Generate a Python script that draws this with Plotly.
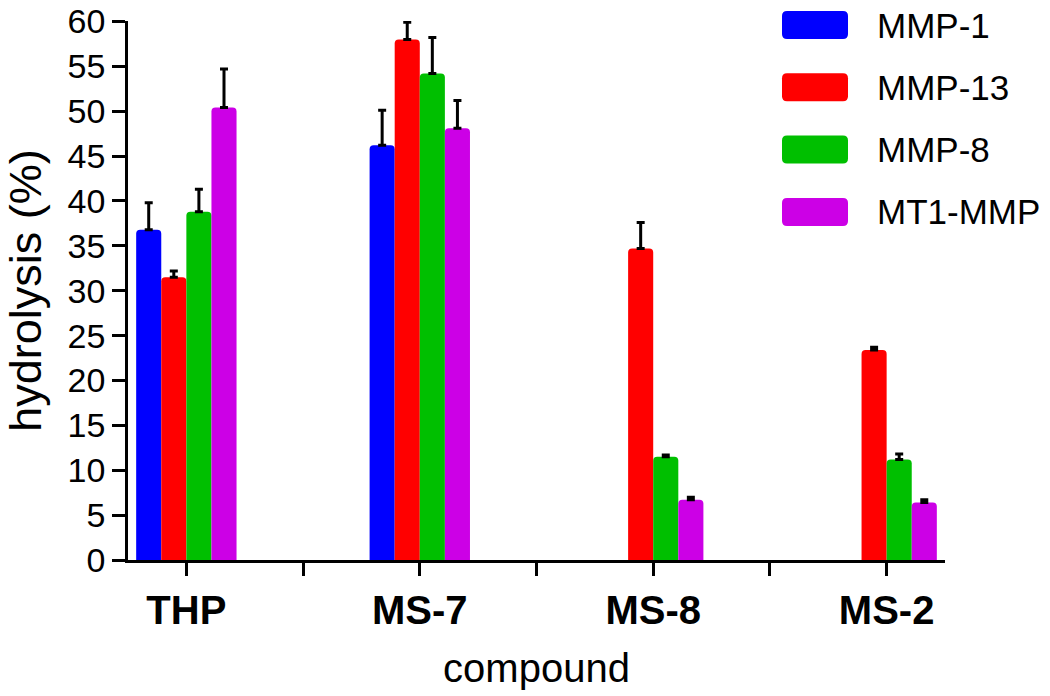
import plotly.graph_objects as go

compounds = ['THP', 'MS-7', 'MS-8', 'MS-2']
enzymes = ['MMP-1', 'MMP-13', 'MMP-8', 'MT1-MMP']

mmp1 = [36.8, 46.2, None, None]
mmp13 = [31.5, 58.0, 34.7, 23.4]
mmp8 = [38.8, 54.2, 11.5, 11.2]
mt1mmp = [50.4, 48.1, 6.7, 6.4]

mmp1_err = [3.0, 3.9, 0, 0]
mmp13_err = [0.7, 1.9, 2.9, 0.3]
mmp8_err = [2.5, 4.0, 0.2, 0.6]
mt1mmp_err = [4.3, 3.1, 0.3, 0.3]

y_ticks = list(range(0, 61, 5))

colors = ['#0000FF', '#FF0000', '#00BF00', '#CC00E6']
series = [mmp1, mmp13, mmp8, mt1mmp]
errors = [mmp1_err, mmp13_err, mmp8_err, mt1mmp_err]

W, H = 1050, 696
L, R, T, B = 128, 1050 - 945, 21, 696 - 560
FONT = 'Liberation Sans, Arial, sans-serif'
PW, PH = W - L - R, H - T - B


def px_x(px):
    # page pixel -> paper x
    return (px - L) / PW


def px_y(py):
    return (H - B - py) / PH


def rounded_rect(x0, y0, x1, y1, r):
    # x/y in page pixels, returns svg path in paper coords
    rx, ry = r / PW, r / PH
    a, b = px_x(x0), px_x(x1)
    top, bot = px_y(y0), px_y(y1)
    return (
        f'M {a + rx},{bot} L {b - rx},{bot} Q {b},{bot} {b},{bot + ry} '
        f'L {b},{top - ry} Q {b},{top} {b - rx},{top} '
        f'L {a + rx},{top} Q {a},{top} {a},{top - ry} '
        f'L {a},{bot + ry} Q {a},{bot} {a + rx},{bot} Z'
    )


x_pos = list(range(len(compounds)))

fig = go.Figure()
for name, vals, err, col in zip(enzymes, series, errors, colors):
    fig.add_trace(
        go.Bar(
            x=x_pos,
            y=vals,
            name=name,
            marker=dict(color=col, line=dict(width=0)),
            error_y=dict(
                type='data',
                symmetric=False,
                array=err,
                arrayminus=[0] * len(err),
                color='black',
                thickness=3,
                width=4,
            ),
            showlegend=False,
        )
    )

# legend drawn by hand so the swatches match the big rounded blocks
shapes = []
annotations = []
for i, (name, col) in enumerate(zip(enzymes, colors)):
    cy = 25 + i * 62.3
    shapes.append(dict(
        type='path', xref='paper', yref='paper',
        path=rounded_rect(782, cy - 14, 848, cy + 14, 5),
        fillcolor=col, line=dict(width=0), layer='above',
    ))
    annotations.append(dict(
        text=name, xref='paper', yref='paper',
        x=px_x(875), y=px_y(cy), xanchor='left', yanchor='middle',
        showarrow=False, font=dict(family=FONT, size=35, color='black'),
    ))

tickvals = []
ticktext = []
for i, c in enumerate(compounds):
    tickvals.append(i)
    ticktext.append(c)
    if i < len(compounds) - 1:
        tickvals.append(i + 0.5)
        ticktext.append('')

fig.update_xaxes(
    range=[-0.25, len(compounds) - 0.75],
    tickvals=tickvals,
    ticktext=ticktext,
    tickfont=dict(family=FONT, size=40, color='black', weight='bold'),
    ticks='outside',
    ticklen=13,
    tickwidth=2.5,
    tickcolor='black',
    showline=True,
    linewidth=2.5,
    linecolor='black',
    showgrid=False,
    zeroline=False,
    title=dict(text='compound', font=dict(family=FONT, size=40, color='black'), standoff=24),
)
fig.update_yaxes(
    range=[0, 60.05],
    tickvals=y_ticks,
    tickfont=dict(family=FONT, size=34, color='black'),
    ticklabeloverflow='allow',
    ticks='outside',
    ticklen=13,
    tickwidth=2.5,
    tickcolor='black',
    showline=True,
    linewidth=2.5,
    linecolor='black',
    showgrid=False,
    zeroline=False,
    title=dict(text='hydrolysis (%)', font=dict(family=FONT, size=45, color='black'), standoff=40),
)
fig.update_layout(
    width=W,
    height=H,
    margin=dict(l=L, r=R, t=T, b=B, autoexpand=False),
    barmode='group',
    bargap=0.57,
    bargroupgap=0,
    barcornerradius=4,
    plot_bgcolor='white',
    paper_bgcolor='white',
    shapes=shapes,
    annotations=annotations,
    font=dict(family=FONT, color='black'),
)

# drop the browser's default body margin so the figure fills the window
fig.write_html(
    'out.html',
    config={'displayModeBar': False},
    post_script="document.body.style.margin = '0px';",
)
